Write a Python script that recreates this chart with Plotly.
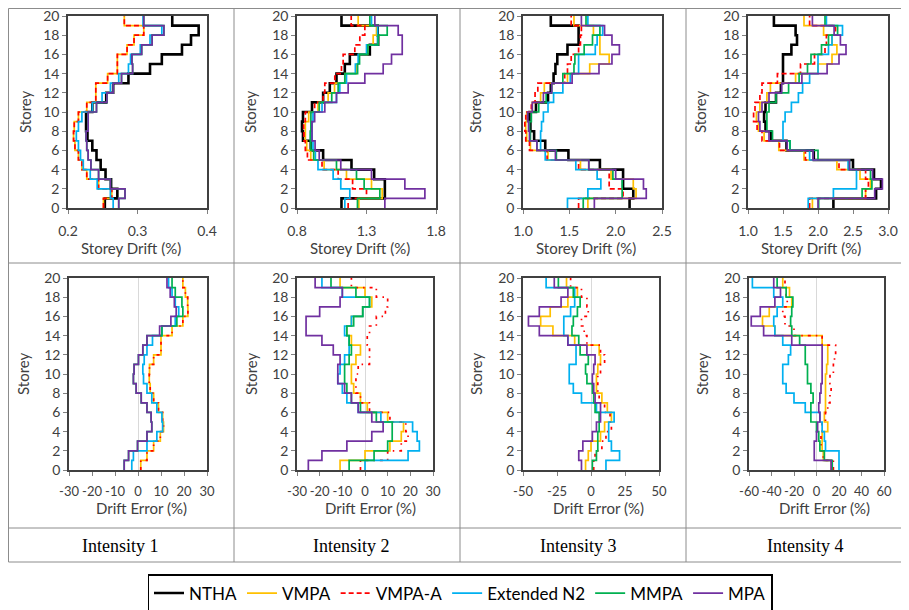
import plotly.graph_objects as go

# ---------------- data (values per storey 1..20) ----------------
storeys = list(range(0, 21))
methods = ["NTHA", "VMPA", "VMPA-A", "Extended N2", "MMPA", "MPA"]
x_ticks_drift = [[0.2, 0.3, 0.4], [0.8, 1.3, 1.8], [1.0, 1.5, 2.0, 2.5], [1.0, 1.5, 2.0, 2.5, 3.0]]
x_ticks_error = [[-30, -20, -10, 0, 10, 20, 30], [-30, -20, -10, 0, 10, 20, 30],
                 [-50, -25, 0, 25, 50], [-60, -40, -20, 0, 20, 40, 60]]
y_ticks = list(range(0, 21, 2))
column_labels = ["Intensity 1", "Intensity 2", "Intensity 3", "Intensity 4"]

# Intensity 1 - storey drift (%)
i1_drift_ntha = [0.253, 0.271, 0.262, 0.254, 0.247, 0.241, 0.235, 0.228, 0.226, 0.226, 0.235, 0.255, 0.265, 0.287, 0.318, 0.335, 0.364, 0.377, 0.388, 0.350]
i1_drift_vmpa = [0.251, 0.263, 0.244, 0.227, 0.220, 0.215, 0.210, 0.208, 0.209, 0.215, 0.227, 0.240, 0.240, 0.257, 0.271, 0.271, 0.285, 0.295, 0.309, 0.281]
i1_drift_vmpaa = [0.251, 0.263, 0.244, 0.227, 0.220, 0.215, 0.210, 0.208, 0.209, 0.215, 0.227, 0.240, 0.240, 0.257, 0.271, 0.271, 0.285, 0.295, 0.309, 0.281]
i1_drift_n2 = [0.265, 0.261, 0.242, 0.232, 0.222, 0.218, 0.215, 0.212, 0.215, 0.220, 0.235, 0.249, 0.261, 0.273, 0.287, 0.290, 0.304, 0.318, 0.335, 0.308]
i1_drift_mmpa = [0.273, 0.282, 0.261, 0.244, 0.233, 0.229, 0.227, 0.226, 0.229, 0.229, 0.241, 0.256, 0.265, 0.277, 0.293, 0.292, 0.306, 0.321, 0.338, 0.309]
i1_drift_mpa = [0.273, 0.282, 0.261, 0.244, 0.233, 0.229, 0.227, 0.226, 0.229, 0.229, 0.241, 0.256, 0.265, 0.277, 0.293, 0.292, 0.306, 0.321, 0.338, 0.309]

# Intensity 2 - storey drift (%)
i2_drift_ntha = [1.12, 1.432, 1.432, 1.355, 1.192, 0.988, 0.899, 0.843, 0.836, 0.843, 0.908, 0.988, 1.036, 1.084, 1.144, 1.18, 1.324, 1.384, 1.38, 1.12]
i2_drift_vmpa = [1.245, 1.413, 1.336, 1.156, 0.995, 0.899, 0.87, 0.86, 0.86, 0.884, 0.951, 1.024, 1.07, 1.144, 1.228, 1.245, 1.307, 1.348, 1.372, 1.24]
i2_drift_vmpaa = [1.168, 1.3, 1.2, 1.096, 0.98, 0.875, 0.86, 0.85, 0.848, 0.86, 0.927, 0.988, 1.0, 1.072, 1.12, 1.132, 1.216, 1.252, 1.288, 1.19]
i2_drift_n2 = [1.144, 1.18, 1.115, 1.06, 0.951, 0.932, 0.915, 0.908, 0.908, 0.915, 0.98, 1.084, 1.108, 1.156, 1.22, 1.24, 1.30, 1.38, 1.38, 1.336]
i2_drift_mmpa = [1.235, 1.396, 1.283, 1.228, 1.084, 0.92, 0.9, 0.895, 0.9, 0.9, 0.96, 1.05, 1.096, 1.144, 1.236, 1.25, 1.31, 1.384, 1.449, 1.324]
i2_drift_mpa = [1.432, 1.72, 1.576, 1.336, 1.115, 0.96, 0.93, 0.908, 0.908, 0.927, 1.0, 1.084, 1.168, 1.288, 1.42, 1.48, 1.557, 1.557, 1.528, 1.36]

# Intensity 3 - storey drift (%)
i3_drift_ntha = [2.15, 2.19, 2.08, 2.08, 1.83, 1.49, 1.24, 1.12, 1.08, 1.07, 1.14, 1.27, 1.30, 1.33, 1.35, 1.37, 1.48, 1.60, 1.60, 1.30]
i3_drift_vmpa = [1.7, 2.22, 2.19, 1.95, 1.62, 1.27, 1.08, 1.04, 1.03, 1.04, 1.1, 1.19, 1.23, 1.48, 1.72, 1.93, 1.83, 1.83, 1.76, 1.55]
i3_drift_vmpaa = [1.6, 2.08, 1.93, 1.93, 1.6, 1.26, 1.07, 1.03, 1.02, 1.03, 1.09, 1.13, 1.16, 1.45, 1.48, 1.52, 1.6, 1.62, 1.63, 1.52]
i3_drift_n2 = [1.48, 1.7, 1.84, 1.8, 1.57, 1.24, 1.19, 1.19, 1.2, 1.22, 1.27, 1.33, 1.43, 1.51, 1.6, 1.6, 1.78, 1.8, 1.86, 1.7]
i3_drift_mmpa = [1.65, 2.07, 2.07, 1.97, 1.71, 1.36, 1.15, 1.08, 1.07, 1.09, 1.17, 1.25, 1.31, 1.43, 1.55, 1.56, 1.66, 1.75, 1.83, 1.68]
i3_drift_mpa = [1.77, 2.33, 2.3, 2.0, 1.71, 1.35, 1.15, 1.07, 1.06, 1.05, 1.1, 1.22, 1.31, 1.53, 1.82, 1.96, 2.04, 1.96, 1.88, 1.63]

# Intensity 4 - storey drift (%)
i4_drift_ntha = [2.22, 2.83, 2.9, 2.8, 2.5, 1.94, 1.55, 1.33, 1.25, 1.23, 1.25, 1.4, 1.47, 1.5, 1.5, 1.5, 1.62, 1.7, 1.68, 1.37]
i4_drift_vmpa = [1.92, 2.68, 2.75, 2.6, 2.27, 1.8, 1.44, 1.23, 1.15, 1.12, 1.17, 1.27, 1.32, 1.68, 2.0, 2.2, 2.27, 2.2, 2.08, 1.8]
i4_drift_vmpaa = [1.88, 2.68, 2.72, 2.68, 2.3, 1.82, 1.45, 1.2, 1.13, 1.08, 1.1, 1.17, 1.2, 1.42, 1.75, 1.95, 2.1, 2.12, 2.25, 1.88]
i4_drift_n2 = [1.86, 2.22, 2.55, 2.55, 2.43, 1.88, 1.6, 1.5, 1.5, 1.53, 1.62, 1.72, 1.78, 1.88, 2.0, 2.0, 2.15, 2.2, 2.35, 2.12]
i4_drift_mmpa = [2.01, 2.63, 2.77, 2.75, 2.45, 2.0, 1.6, 1.35, 1.27, 1.27, 1.3, 1.4, 1.58, 1.73, 1.85, 1.9, 2.05, 2.15, 2.28, 2.1]
i4_drift_mpa = [2.0, 2.81, 2.92, 2.78, 2.45, 1.93, 1.56, 1.3, 1.17, 1.15, 1.2, 1.3, 1.48, 1.77, 2.13, 2.3, 2.4, 2.32, 2.23, 1.92]

# Drift error (%)
i1_error_vmpa = [1.2, 3.9, 6.8, 9.7, 11.1, 10.7, 8.9, 6.8, 5.3, 4.9, 5, 6.8, 10, 10, 14.8, 19.5, 21.7, 21.6, 20.6, 19.5]
i1_error_vmpaa = [1.2, 3.9, 6.8, 9.7, 11.1, 10.7, 8.9, 6.8, 5.3, 4.9, 5, 6.8, 10, 10, 14.8, 19.5, 21.7, 21.6, 20.6, 19.5]
i1_error_n2 = [-2.7, -2, 3.9, 8.2, 10.7, 10.4, 8.2, 6, 3.9, 2.4, 2.1, 2.7, 3.9, 6.3, 10.4, 16.2, 17.7, 16.2, 14.8, 13.3]
i1_error_mmpa = [-6, -4.1, -0.2, 3.9, 6, 5.7, 3.9, 1.4, -0.8, -2, -1.7, 0.2, 2.1, 3.9, 10.4, 16.9, 19.5, 19.1, 16.2, 14.8]
i1_error_mpa = [-6, -4.1, -0.2, 3.9, 6, 5.7, 3.9, 1.4, -0.8, -2, -1.7, 0.2, 2.1, 3.9, 9.4, 14.3, 16.6, 15.8, 14, 12.6]

i2_error_vmpa = [-11, 0, 11, 16, 17, 10, 1, -2, -5, -6, -6, -4, -2, -6, -8, -6, -1, 3, 0, -11]
i2_error_vmpaa = [-2, 10, 16, 19, 18, 11, 2, -2, -4, -4, -3, 2, 2, 1, 2, 5, 9, 10, 5, -6]
i2_error_n2 = [0, 19, 24, 23, 21, 7, -3, -8, -10, -12, -11, -9, -7, -7, -9, -6, -1, 2, -10, -19]
i2_error_mmpa = [-7, 4, 10, 12, 12, 5, -2, -6, -8, -9, -9, -7, -6, -7, -8, -5, -1, 2, -4, -15]
i2_error_mpa = [-25, -19, -8, 3, 8, 3, -3, -6, -9, -12, -12, -11, -14, -19, -26, -26, -20, -11, -10, -22]

i3_error_vmpa = [-4, -2, 0, 7, 10, 15, 12, 8, 4, 4, 5, 7, 6, -12, -28, -37, -30, -17, -10, -18]
i3_error_vmpaa = [2, 3, 8, 11, 15, 14, 10, 6, 5, 5, 7, 10, 7, -3, -5, -7, -2, -3, -7, -15]
i3_error_n2 = [11, 21, 15, 13, 13, 17, 4, -7, -13, -16, -16, -11, -11, -17, -20, -20, -15, -12, -12, -33]
i3_error_mmpa = [1, 4, 5, 5, 6, 6, 3, 2, 1, -3, -4, -2, -8, -9, -14, -13, -10, -8, -13, -24]
i3_error_mpa = [-7, -9, -6, 1, 4, 7, 7, 3, 2, 1, 2, 3, -3, -17, -38, -46, -38, -22, -17, -27]

i4_error_vmpa = [13, 6, 5, 5, 10, 7, 8, 8, 8, 8, 9, 10, 10, 5, -37, -48, -42, -22, -24, -30]
i4_error_vmpaa = [15, 6, 4, 4, 5, 8, 10, 12, 13, 12, 15, 16, 17, 5, -20, -28, -30, -26, -27, -28]
i4_error_n2 = [20, 20, 8, 7, 5, 3, -10, -20, -27, -30, -30, -25, -23, -30, -37, -38, -35, -30, -38, -57]
i4_error_mmpa = [14, 7, 3, 2, 0, -5, -5, -3, -5, -8, -8, -10, -10, -15, -22, -23, -22, -21, -27, -35]
i4_error_mpa = [13, -2, -2, 0, 1, 3, 2, 3, 4, 5, 5, 5, 5, -22, -47, -58, -50, -37, -32, -38]

drift_sets = [
    [i1_drift_ntha, i1_drift_vmpa, i1_drift_vmpaa, i1_drift_n2, i1_drift_mmpa, i1_drift_mpa],
    [i2_drift_ntha, i2_drift_vmpa, i2_drift_vmpaa, i2_drift_n2, i2_drift_mmpa, i2_drift_mpa],
    [i3_drift_ntha, i3_drift_vmpa, i3_drift_vmpaa, i3_drift_n2, i3_drift_mmpa, i3_drift_mpa],
    [i4_drift_ntha, i4_drift_vmpa, i4_drift_vmpaa, i4_drift_n2, i4_drift_mmpa, i4_drift_mpa],
]
error_sets = [
    [None, i1_error_vmpa, i1_error_vmpaa, i1_error_n2, i1_error_mmpa, i1_error_mpa],
    [None, i2_error_vmpa, i2_error_vmpaa, i2_error_n2, i2_error_mmpa, i2_error_mpa],
    [None, i3_error_vmpa, i3_error_vmpaa, i3_error_n2, i3_error_mmpa, i3_error_mpa],
    [None, i4_error_vmpa, i4_error_vmpaa, i4_error_n2, i4_error_mmpa, i4_error_mpa],
]

# ---------------- styling / layout ----------------
# the page body has an 8px margin, so the figure is 8px smaller and all
# reference pixel positions are shifted by 8px
OFF = 8
W, H = 909 - OFF, 610 - OFF
FONT = "Lato"
colors = ["#000000", "#FFC000", "#FF0000", "#00B0F0", "#00B050", "#7030A0"]
widths = [2.6, 1.7, 1.7, 1.7, 1.7, 1.7]


def px(x):
    return max(x - OFF, 0.5) / W


def py(y):
    return 1 - max(y - OFF, 0.5) / H


top_x = [(68, 207), (297, 436), (523, 662), (748, 888)]
bot_x = [(69, 207), (297, 433), (523, 659), (749, 884)]
top_y = (16, 208)
bot_y = (278, 470)
drift_ranges = [[0.2, 0.4], [0.8, 1.8], [1.0, 2.5], [1.0, 3.0]]
error_ranges = [[-30, 30], [-30, 30], [-50, 50], [-60, 60]]

fig = go.Figure()
layout = dict(width=W, height=H, autosize=False, margin=dict(l=0, r=0, t=0, b=0, pad=0, autoexpand=False),
              paper_bgcolor="white", plot_bgcolor="white",
              font=dict(family=FONT, size=14, color="#404040"))


def step(vals):
    return list(vals) + [vals[-1]]


def add_axes(n, xdom, ydom, rng, tv, tt, bottom):
    ax = dict(domain=[px(xdom[0]), px(xdom[1])], range=rng, tickvals=tv, ticktext=tt,
              showline=True, mirror=True, linecolor="#404040", linewidth=1.6,
              ticks="outside", ticklen=4, tickcolor="#808080", showgrid=False,
              zeroline=bottom, zerolinecolor="#d9d9d9", zerolinewidth=1,
              anchor="y%d" % n, fixedrange=True, ticklabelstandoff=5, tickangle=0,
              automargin=False, ticklabeloverflow="allow",
              tickfont=dict(family=FONT, size=13 if bottom else 14, color="#404040"))
    ay = dict(domain=[py(ydom[1]), py(ydom[0])], range=[0, 20], tickvals=y_ticks,
              showline=True, mirror=True, linecolor="#404040", linewidth=1.6,
              ticks="outside", ticklen=4, tickcolor="#808080", showgrid=False,
              zeroline=False, anchor="x%d" % n, fixedrange=True, automargin=False,
              ticklabeloverflow="allow",
              tickfont=dict(family=FONT, size=14, color="#404040"))
    layout["xaxis" if n == 1 else "xaxis%d" % n] = ax
    layout["yaxis" if n == 1 else "yaxis%d" % n] = ay


for c in range(4):
    n = c + 1
    tv = x_ticks_drift[c]
    add_axes(n, top_x[c], top_y, drift_ranges[c], tv, ["%.1f" % v for v in tv], False)
    for k, vals in enumerate(drift_sets[c]):
        dash = "5px,3px" if k == 2 else "solid"
        fig.add_trace(go.Scatter(
            x=step(vals), y=storeys, mode="lines", name=methods[k],
            line=dict(shape="vh", color=colors[k], width=widths[k], dash=dash),
            xaxis="x%d" % n, yaxis="y%d" % n, showlegend=(c == 0), hoverinfo="skip"))

for c in range(4):
    n = c + 5
    tv = x_ticks_error[c]
    add_axes(n, bot_x[c], bot_y, error_ranges[c], tv, [str(v) for v in tv], True)
    for k, vals in enumerate(error_sets[c]):
        if vals is None:
            continue
        dash = "3px,5px,1.5px,5px" if k == 2 else "solid"
        fig.add_trace(go.Scatter(
            x=step(vals), y=storeys, mode="lines", name=methods[k],
            line=dict(shape="vh", color=colors[k], width=widths[k], dash=dash),
            xaxis="x%d" % n, yaxis="y%d" % n, showlegend=False, hoverinfo="skip"))

annotations = []
ytitle_top = [25, 250, 475, 700]
ytitle_bot = [23, 251, 476, 702]
xtitle_top = [131, 360, 586, 811]
xtitle_bot = [141, 370, 598, 824]
label_x = [120, 351, 578, 805]


def note(x, y, text, size=15, family=FONT, color="#404040", angle=0):
    annotations.append(dict(x=px(x), y=py(y), xref="paper", yref="paper", xanchor="center",
                            yanchor="middle", text=text, textangle=angle, showarrow=False,
                            font=dict(family=family, size=size, color=color)))


for c in range(4):
    note(ytitle_top[c], 112, "Storey", angle=-90)
    note(ytitle_bot[c], 374, "Storey", angle=-90)
    note(xtitle_top[c], 248, "Storey Drift (%)")
    note(xtitle_bot[c], 508, "Drift Error (%)")
    note(label_x[c], 546, column_labels[c], size=18, family="Liberation Serif", color="#000000")

shapes = []
grid_color = "#8c8c8c"


def hline(y, x0=6, x1=907):
    shapes.append(dict(type="line", xref="paper", yref="paper", x0=px(x0), x1=px(x1),
                       y0=py(y), y1=py(y), line=dict(color=grid_color, width=1)))


def vline(x, y0=6, y1=562):
    shapes.append(dict(type="line", xref="paper", yref="paper", x0=px(x), x1=px(x),
                       y0=py(y0), y1=py(y1), line=dict(color=grid_color, width=1)))


for yy in [6, 263, 528, 562]:
    hline(yy)
for xx in [6, 234, 460, 686, 907]:
    vline(xx)

layout["annotations"] = annotations
layout["shapes"] = shapes
layout["legend"] = dict(orientation="h", x=px(460), xanchor="center", y=py(574), yanchor="top",
                        bordercolor="#000000", borderwidth=1.5, bgcolor="white",
                        font=dict(family=FONT, size=17, color="#000000"), itemwidth=30)
fig.update_layout(**layout)
fig.write_html("out.html")
